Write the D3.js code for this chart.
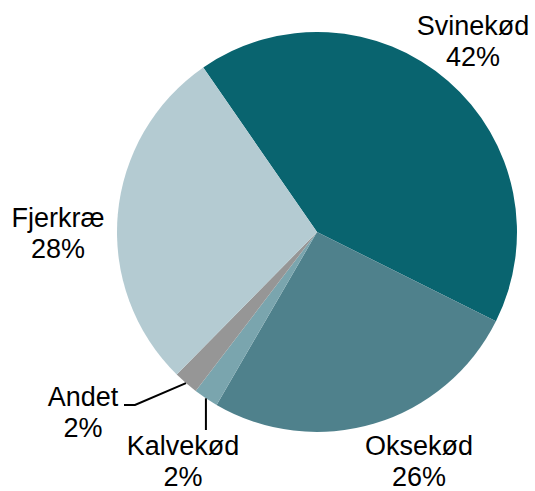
<!DOCTYPE html>
<html>
<head>
<meta charset="utf-8">
<script src="https://cdn.jsdelivr.net/npm/d3@7"></script>
<style>
  body { margin: 0; background: #fff; }
  text { font-family: "Liberation Sans", Arial, sans-serif; font-size: 27px; fill: #000; }
</style>
</head>
<body>
<div id="chart"></div>
<script>
// DATA
const categories = ["Svinekød", "Oksekød", "Kalvekød", "Andet", "Fjerkræ"];
const shares = [42, 26, 2, 2, 28];
const labels = ["42%", "26%", "2%", "2%", "28%"];
const colors = ["#09646f", "#4f818c", "#7aa5ae", "#969696", "#b4cbd2"];

const width = 535;
const height = 491;
const cx = 317, cy = 232, radius = 200;
const startAngle = -34.66 * Math.PI / 180;

// label layout (text anchor centre x, first baseline y)
const labelPos = {
    "Svinekød": { x: 473, y: 35 },
    "Oksekød": { x: 419, y: 455 },
    "Kalvekød": { x: 183, y: 455 },
    "Andet": { x: 83, y: 406 },
    "Fjerkræ": { x: 58, y: 227 }
};

const data = categories.map((c, i) => ({ name: c, value: shares[i], label: labels[i], color: colors[i] }));

const svg = d3.select("#chart")
    .append("svg")
    .attr("width", width)
    .attr("height", height);

const g = svg.append("g")
    .attr("transform", `translate(${cx}, ${cy})`);

const pie = d3.pie()
    .value(d => d.value)
    .sort(null)
    .startAngle(startAngle)
    .endAngle(startAngle + 2 * Math.PI);

const arc = d3.arc()
    .innerRadius(0)
    .outerRadius(radius);

const arcs = pie(data);

g.selectAll("path")
    .data(arcs)
    .enter()
    .append("path")
    .attr("d", arc)
    .attr("fill", d => d.data.color);

// point on the rim at the slice's middle angle
function rimPoint(d) {
    const a = (d.startAngle + d.endAngle) / 2;
    return [cx + radius * Math.sin(a), cy - radius * Math.cos(a)];
}

// LEADER LINES (small slices)
const andet = arcs.find(d => d.data.name === "Andet");
const kalv = arcs.find(d => d.data.name === "Kalvekød");
const pa = rimPoint(andet);
const pk = rimPoint(kalv);

svg.append("polyline")
    .attr("points", [pa, [135, 405], [124, 405]].map(p => p.join(",")).join(" "))
    .attr("fill", "none")
    .attr("stroke", "#000")
    .attr("stroke-width", 2);

svg.append("line")
    .attr("x1", pk[0]).attr("y1", pk[1])
    .attr("x2", pk[0]).attr("y2", 430)
    .attr("stroke", "#000")
    .attr("stroke-width", 2);

// LABELS
const lbl = svg.selectAll(".lbl")
    .data(data)
    .enter()
    .append("text")
    .attr("class", "lbl")
    .attr("text-anchor", "middle");

lbl.append("tspan")
    .attr("x", d => labelPos[d.name].x)
    .attr("y", d => labelPos[d.name].y)
    .text(d => d.name);

lbl.append("tspan")
    .attr("x", d => labelPos[d.name].x)
    .attr("y", d => labelPos[d.name].y + 31)
    .text(d => d.label);
</script>
</body>
</html>
